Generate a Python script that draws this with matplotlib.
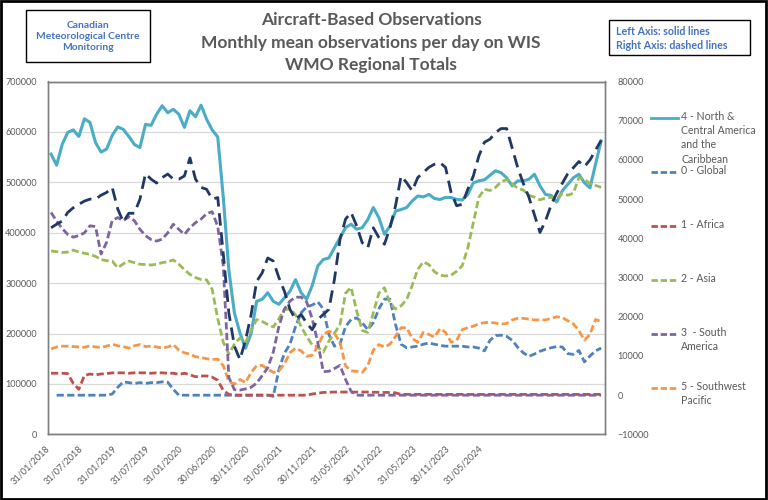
import numpy as np
import matplotlib
matplotlib.use("Agg")
import matplotlib.pyplot as plt
from matplotlib.lines import Line2D
from matplotlib.patches import Rectangle

plt.rcParams["font.family"] = ["Lato", "DejaVu Sans"]

# ---- data (monthly mean obs/day) ----
tick_labels = ["31/01/2018", "31/07/2018", "31/01/2019", "31/07/2019", "31/01/2020",
               "30/06/2020", "30/11/2020", "31/05/2021", "30/11/2021", "31/05/2022",
               "30/11/2022", "31/05/2023", "30/11/2023", "31/05/2024"]

# left axis (solid)
nca = [556000, 534000, 575000, 599000, 604000, 591000, 626000, 619000, 579000, 560000,
       566000, 593000, 610000, 605000, 591000, 575000, 569000, 615000, 613000, 635000,
       652000, 638000, 645000, 635000, 609000, 642000, 630000, 653000, 625000, 604000,
       590000, 470000, 326000, 241000, 201000, 171000, 200000, 264000, 268000, 281000,
       264000, 258000, 271000, 284000, 307000, 281000, 268000, 295000, 334000, 347000,
       350000, 370000, 390000, 410000, 417000, 407000, 410000, 426000, 450000, 430000,
       397000, 413000, 443000, 446000, 450000, 463000, 473000, 471000, 476000, 468000,
       466000, 470000, 470000, 466000, 465000, 476000, 499000, 503000, 505000, 514000,
       523000, 519000, 509000, 493000, 503000, 503000, 506000, 516000, 493000, 476000,
       474000, 461000, 483000, 496000, 509000, 516000, 499000, 489000, 536000, 582000]

# right axis (dashed)
europe = [42700, 43600, 44400, 46600, 47800, 48700, 49500, 50000, 50000, 51000,
          51700, 53000, 47500, 44200, 46400, 46400, 50000, 56500, 55100, 54100,
          55500, 56400, 55100, 55100, 55900, 60500, 55100, 53000, 52500, 50000,
          50400, 36000, 21000, 12500, 9100, 14000, 20500, 29000, 31200, 35000,
          34200, 30000, 26500, 21900, 19300, 20600, 18400, 16700, 19300, 20600,
          21900, 29500, 39700, 44900, 46600, 43200, 38900, 37600, 42700, 40200,
          38500, 42700, 48300, 55900, 54200, 52100, 55500, 56800, 58100, 58900,
          59300, 58100, 51700, 48300, 48700, 52500, 55900, 61000, 64500, 65300,
          67000, 68000, 68000, 63000, 58000, 54000, 50500, 46000, 41500, 44500,
          48500, 51500, 54000, 56500, 58000, 59600, 58300, 60000, 62500, 65000]

glob = [np.nan, 0, 0, 0, 0, 0, 0, 0, 0, 0,
        0, 300, 2000, 3400, 3200, 3000, 3200, 3000, 3200, 3200,
        3400, 3300, 1500, 0, 0, 0, 0, 0, 0, 0,
        0, 0, 0, 0, 0, 0, 0, 0, 0, 0,
        -300, 6500, 10700, 13000, 17500, 21000, 22500, 23000, 23800, 22000,
        15500, 12500, 13000, 17500, 19300, 19700, 18500, 16700, 18500, 22000,
        24500, 24500, 18000, 13000, 12100, 12300, 12500, 13000, 13300, 13000,
        12700, 12500, 12500, 12500, 12500, 12300, 12300, 12000, 11300, 14000,
        15200, 15300, 15000, 14000, 12200, 10800, 9900, 10500, 11200, 11700,
        12100, 12400, 12300, 10600, 10400, 11400, 8500, 10000, 11300, 12000]

africa = [5600, 5600, 5600, 5500, 3000, 1500, 5000, 5400, 5200, 5400,
          5500, 5700, 5700, 5700, 5600, 5700, 5700, 5700, 5600, 5700,
          5700, 5600, 5600, 5300, 5600, 5200, 4700, 4900, 4900, 4600,
          3800, 1200, 200, 0, 0, 0, 0, 0, 0, 0,
          0, 0, 0, 0, 0, 0, 0, 300, 500, 700,
          750, 800, 800, 800, 750, 800, 800, 800, 750, 750,
          700, 700, 600, 200, 200, 200, 200, 200, 200, 200,
          200, 200, 200, 200, 200, 200, 200, 200, 200, 200,
          200, 200, 200, 200, 200, 200, 200, 200, 200, 200,
          200, 200, 200, 200, 200, 200, 200, 200, 200, 200]

asia = [36800, 36600, 36400, 36500, 37000, 36500, 36200, 35900, 35400, 34600,
        34300, 34200, 32500, 33500, 34200, 33800, 33400, 33300, 33200, 33400,
        33800, 34000, 34500, 33400, 32000, 30800, 30000, 29500, 29400, 27000,
        19500, 13500, 10500, 13000, 14600, 13500, 16500, 19300, 18800, 18000,
        17400, 19500, 21800, 22000, 20500, 17500, 15000, 12800, 12300, 11000,
        13800, 15800, 18000, 26000, 27500, 21500, 16500, 16000, 21000, 26000,
        27400, 23500, 22000, 22800, 24400, 28000, 32100, 34000, 33300, 31500,
        30600, 30400, 30600, 31600, 33000, 37500, 44000, 50500, 52500, 52200,
        53000, 54400, 55000, 53800, 52800, 52300, 51000, 50500, 49800, 50300,
        50400, 49900, 51500, 51000, 51500, 55500, 55000, 54000, 53500, 53000]

s_america = [46600, 44400, 42500, 41000, 40300, 40700, 41400, 43200, 43000, 36000,
             39000, 44500, 45300, 44500, 45500, 44500, 42300, 40700, 39700, 39300,
             39800, 41400, 43600, 42300, 41000, 42700, 44000, 44900, 46300, 46800,
             43000, 33000, 4500, 1400, 1300, 1600, 2000, 3100, 5000, 7000,
             11000, 17500, 22000, 24000, 25000, 25000, 23800, 19500, 13500, 6000,
             6100, 6800, 7600, 4000, 1000, 0, 0, 0, 0, 0,
             0, 0, 0, 0, 0, 0, 0, 0, 0, 0,
             0, 0, 0, 0, 0, 0, 0, 0, 0, 0,
             0, 0, 0, 0, 0, 0, 0, 0, 0, 0,
             0, 0, 0, 0, 0, 0, 0, 0, 0, 0]

sw_pacific = [11800, 12300, 12500, 12500, 12400, 12300, 12200, 12600, 12300, 12200,
              12500, 13000, 12600, 12400, 12000, 12600, 12900, 12400, 12500, 12300,
              12000, 12300, 12900, 11500, 10800, 10500, 9800, 9600, 9300, 9100,
              9200, 7500, 3500, 2800, 4000, 3200, 5800, 7500, 7600, 6700,
              5800, 6200, 8000, 10800, 12000, 11300, 9900, 10200, 12500, 15500,
              16300, 15800, 13500, 7500, 6200, 6100, 5800, 7500, 11500, 12900,
              12300, 13000, 15000, 17200, 17200, 14500, 13500, 16000, 15500, 14800,
              17000, 16000, 13500, 14000, 16700, 17200, 17600, 18200, 18500, 18600,
              18400, 18100, 18300, 19200, 19600, 19600, 19400, 19200, 19200, 19200,
              19600, 20000, 19800, 19000, 18200, 16500, 14000, 15500, 19300, 18800]

x = np.arange(len(nca))
tick_pos = np.arange(0, 6 * len(tick_labels), 6)

GRAY = "#595959"
C_NCA = "#4BACC6"
C_EUR = "#1F3864"
C_GLB = "#4F81BD"
C_AFR = "#C0504D"
C_ASI = "#9BBB59"
C_SAM = "#8064A2"
C_SWP = "#F79646"

fig = plt.figure(figsize=(7.68, 5.0), dpi=100)
ax = fig.add_axes([48 / 768, 1 - 434.4 / 500, 557 / 768, 352.9 / 500])
ax2 = ax.twinx()

# primary: solid
ax.plot(x, nca, color=C_NCA, lw=2.2, solid_joinstyle="round", zorder=3)
ax.set_ylim(0, 700000)
ax.set_xlim(-0.55, 99.7)
ax.set_yticks(np.arange(0, 700001, 100000))
ax.yaxis.grid(True, color="#D9D9D9", lw=0.9)
ax.set_axisbelow(True)

# secondary: dashed
dash = (2.6, 1.2)
ax2.plot(x, glob, color=C_GLB, lw=2.0, dashes=dash)
ax2.plot(x, africa, color=C_AFR, lw=2.0, dashes=dash)
ax2.plot(x, asia, color=C_ASI, lw=2.0, dashes=dash)
ax2.plot(x, sw_pacific, color=C_SWP, lw=2.0, dashes=dash)
ax2.plot(x, s_america, color=C_SAM, lw=2.0, dashes=dash)
ax2.plot(x, europe, color=C_EUR, lw=2.0, dashes=(4.5, 2.4))
ax2.set_ylim(-10000, 80000)
ax2.set_yticks(np.arange(-10000, 80001, 10000))

ax.set_xticks(tick_pos - 0.5)
ax.set_xticklabels(tick_labels, rotation=45, ha="right", va="center",
                   rotation_mode="anchor", fontsize=6.6, color=GRAY)
ax.tick_params(axis="x", length=0, pad=9)
ax.tick_params(axis="y", length=0, labelsize=6.6, labelcolor=GRAY, pad=8)
ax2.tick_params(axis="y", length=0, labelsize=6.6, labelcolor=GRAY, pad=9)
for a in (ax, ax2):
    for s in a.spines.values():
        s.set_color("#7F7F7F")
        s.set_linewidth(1.0)

# titles
fig.text(371 / 768, 1 - 20 / 500, "Aircraft-Based Observations", ha="center", va="center",
         fontsize=12.5, fontweight="bold", color=GRAY)
fig.text(371 / 768, 1 - 43 / 500, "Monthly mean observations per day on WIS", ha="center",
         va="center", fontsize=12.5, fontweight="bold", color=GRAY)
fig.text(371 / 768, 1 - 65 / 500, "WMO Regional Totals", ha="center", va="center",
         fontsize=12.5, fontweight="bold", color=GRAY)

# text boxes
fig.add_artist(Rectangle((26 / 768, 1 - 62 / 500), 124 / 768, 52 / 500, transform=fig.transFigure,
                         fill=False, ec="black", lw=1.0))
fig.text(88 / 768, 1 - 36.5 / 500, "Canadian\nMeteorological Centre\nMonitoring", ha="center",
         va="center", fontsize=7.4, fontweight="bold", color="#4472C4", linespacing=1.35)
fig.add_artist(Rectangle((609 / 768, 1 - 55 / 500), 141 / 768, 35 / 500, transform=fig.transFigure,
                         fill=False, ec="black", lw=1.0))
fig.text(616 / 768, 1 - 38.5 / 500, "Left Axis: solid lines\nRight Axis: dashed lines", ha="left",
         va="center", fontsize=7.7, fontweight="bold", color="#4472C4", linespacing=1.3)

# legend (drawn by hand to match the evenly spaced entries)
legend_items = [
    ("4 - North &\nCentral America\nand the\nCaribbean", C_NCA, None),
    ("0 - Global", C_GLB, dash),
    ("1 - Africa", C_AFR, dash),
    ("2 - Asia", C_ASI, dash),
    ("3  - South\nAmerica", C_SAM, dash),
    ("5 - Southwest\nPacific", C_SWP, dash),
]
for k, (lab, col, ds) in enumerate(legend_items):
    yc = 1 - (118 + 54 * k) / 500
    ln = Line2D([651 / 768, 678 / 768], [yc, yc], transform=fig.transFigure, color=col, lw=2.0)
    if ds is not None:
        ln.set_dashes((2.3, 1.0))
    fig.add_artist(ln)
    fig.text(681 / 768, yc + 7.5 / 500, lab, ha="left", va="top", fontsize=7.6,
             color=GRAY, linespacing=1.38)

fig.add_artist(Rectangle((0.001, 0.002), 0.997, 0.996, transform=fig.transFigure,
                         fill=False, ec="black", lw=2.0))

fig.savefig("out.png", dpi=100)
